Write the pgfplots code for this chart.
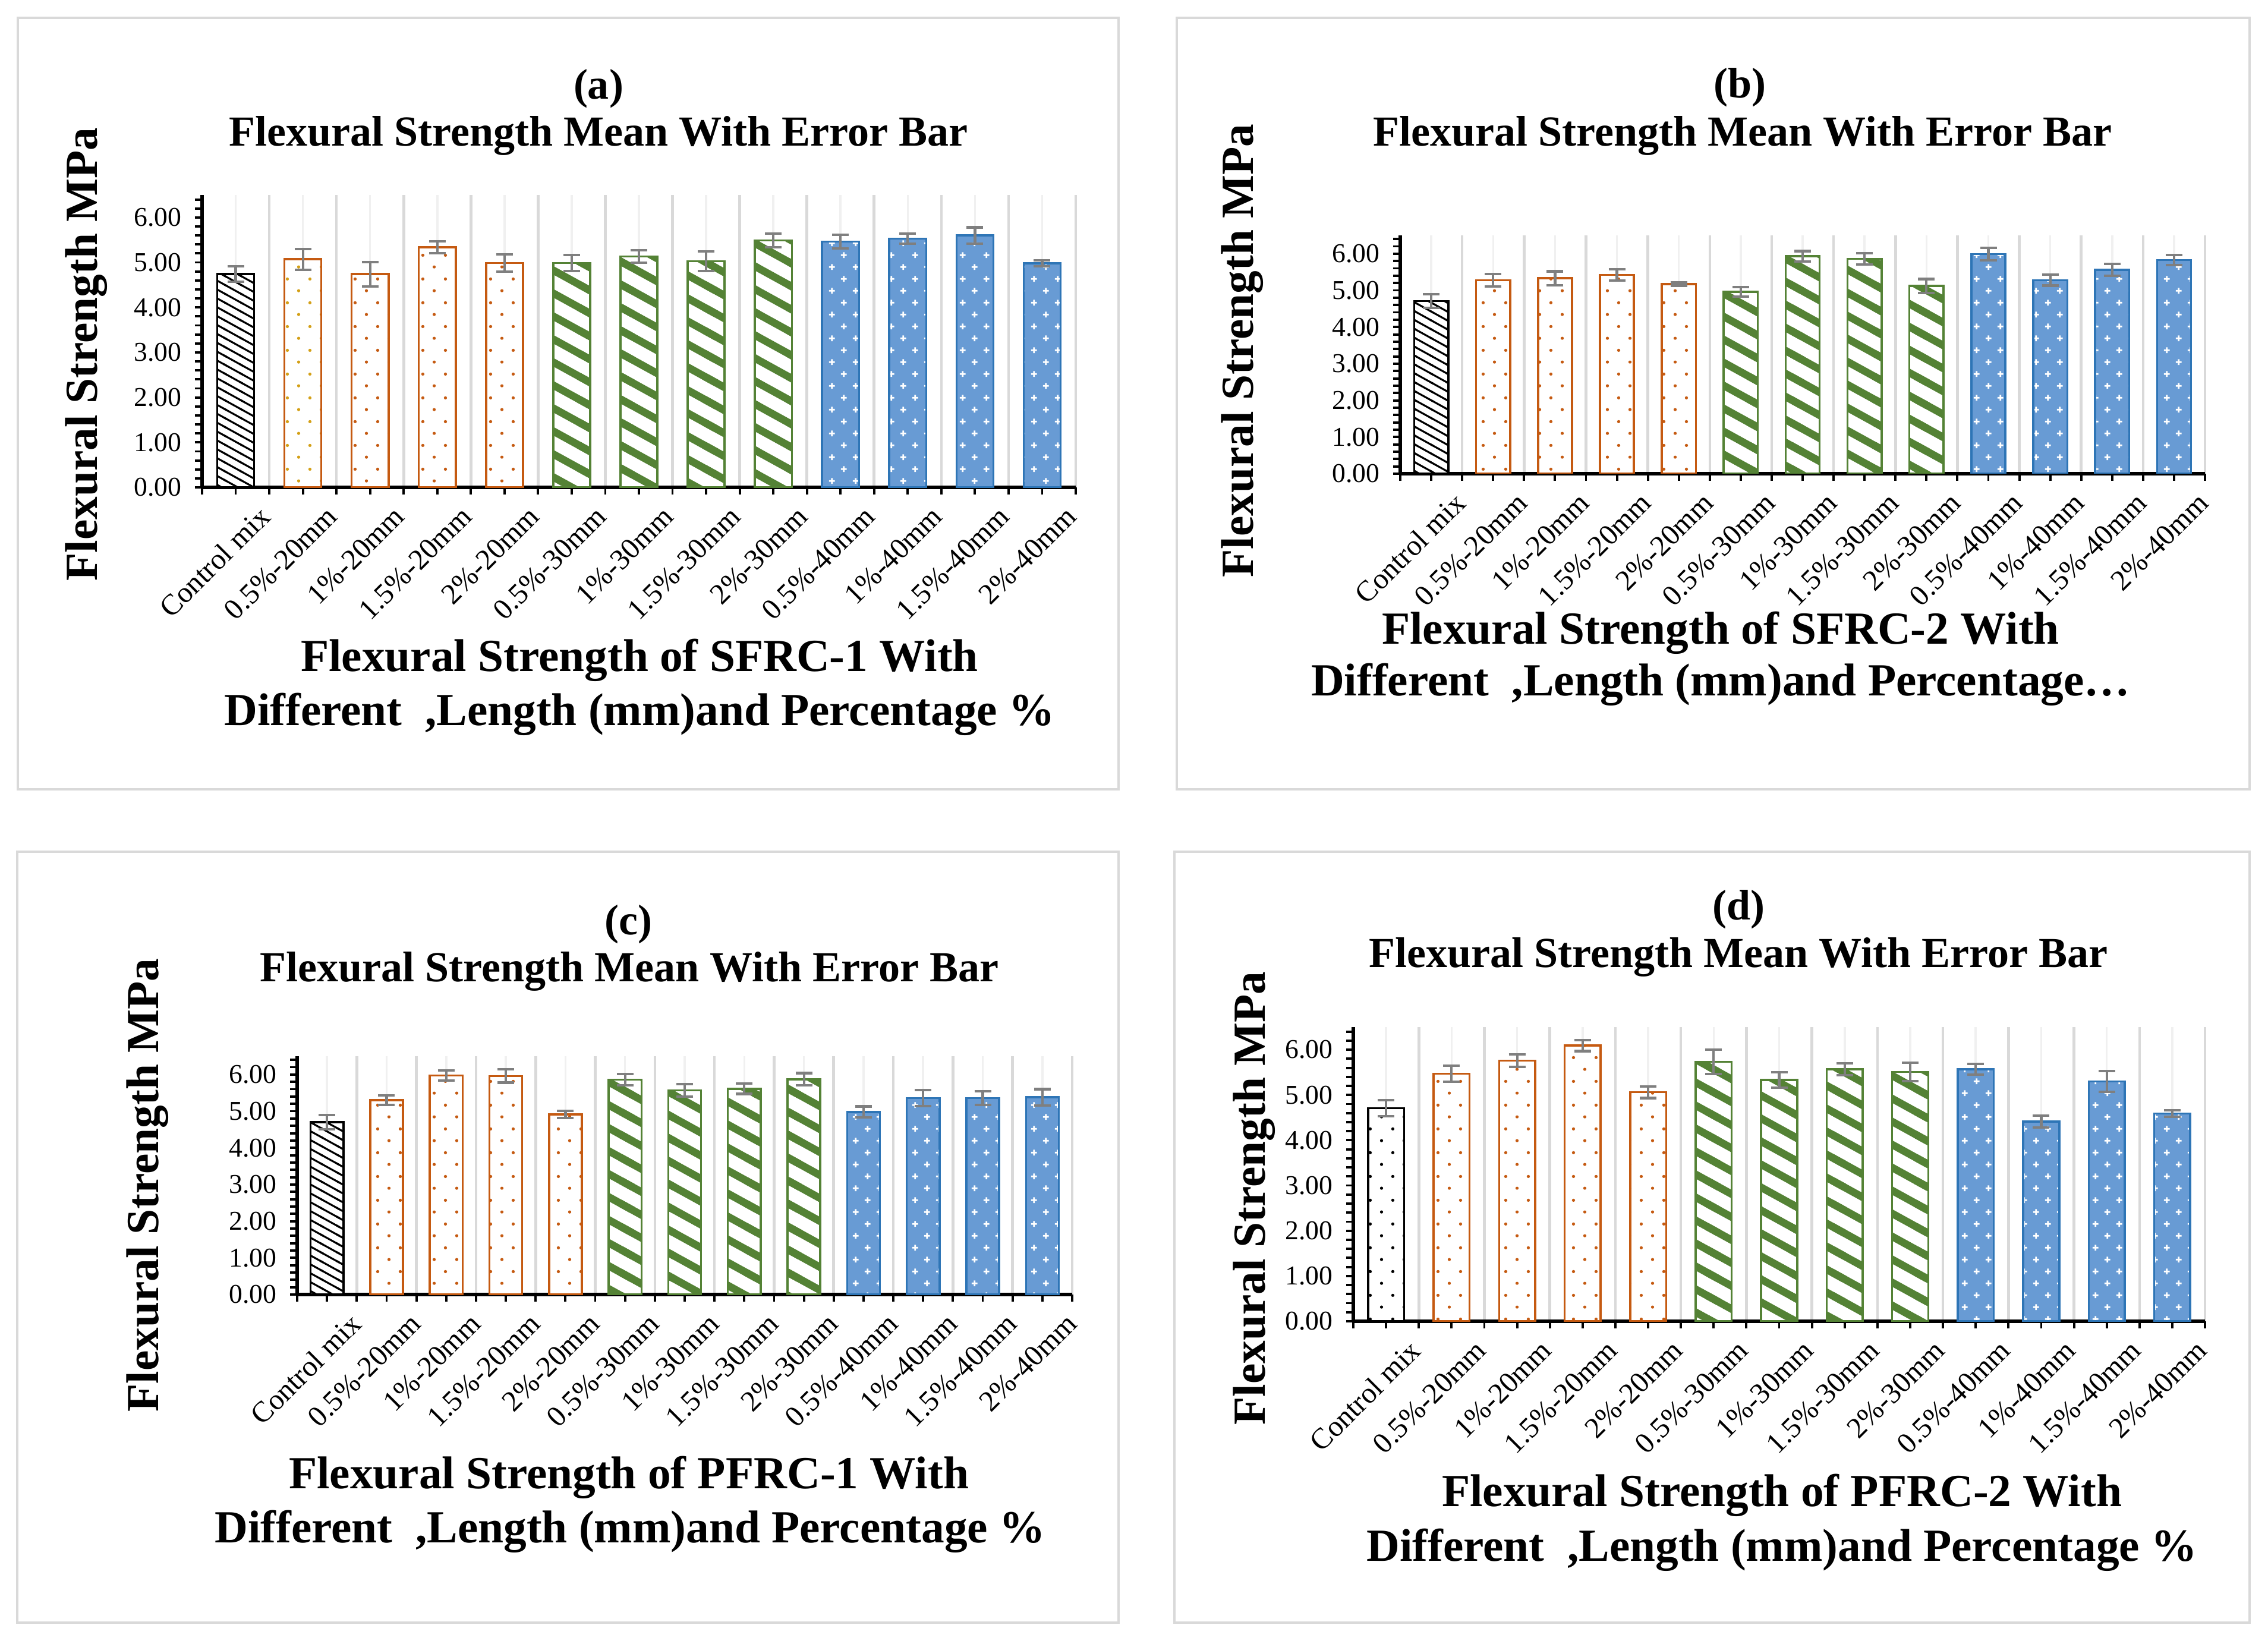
\documentclass[border=0pt]{standalone}
\usepackage{fontspec}
\setmainfont{Liberation Serif}
\usepackage{pgfplots}
\pgfplotsset{compat=1.18}
\usetikzlibrary{patterns}

\definecolor{cOr}{RGB}{197,90,17}
\definecolor{cGold}{RGB}{212,160,23}
\definecolor{cGr}{RGB}{84,130,53}
\definecolor{cBl}{RGB}{46,117,182}
\definecolor{cBlF}{RGB}{104,155,212}
\definecolor{errG}{RGB}{127,127,127}
\definecolor{frameG}{RGB}{217,217,217}
\definecolor{gridD}{RGB}{217,217,217}
\definecolor{gridL}{RGB}{240,240,240}

% fine black hatch, falling to the right
\pgfdeclarepatternformonly{hatchK}{\pgfqpoint{-1.5pt}{-1.5pt}}{\pgfqpoint{9.2pt}{5.8pt}}{\pgfqpoint{7.7pt}{4.25pt}}{%
  \pgfsetlinewidth{0.9pt}%
  \pgfpathmoveto{\pgfqpoint{-0.77pt}{4.675pt}}%
  \pgfpathlineto{\pgfqpoint{8.47pt}{-0.425pt}}%
  \pgfusepath{stroke}}
% wide green stripes
\pgfdeclarepatternformonly{stripeG}{\pgfqpoint{-4pt}{-3pt}}{\pgfqpoint{24pt}{14pt}}{\pgfqpoint{20pt}{11pt}}{%
  \pgfsetlinewidth{3.6pt}%
  \pgfpathmoveto{\pgfqpoint{-3pt}{12.65pt}}%
  \pgfpathlineto{\pgfqpoint{23pt}{-1.65pt}}%
  \pgfusepath{stroke}}
% staggered dots
\pgfdeclarepatternformonly{dotsP}{\pgfqpoint{0pt}{0pt}}{\pgfqpoint{10.8pt}{11.3pt}}{\pgfqpoint{10.8pt}{11.3pt}}{%
  \pgfpathcircle{\pgfqpoint{2.7pt}{2.825pt}}{0.75pt}%
  \pgfpathcircle{\pgfqpoint{8.1pt}{8.475pt}}{0.75pt}%
  \pgfusepath{fill}}
% small white crosses on the blue bars
\pgfdeclarepatternformonly{crossW}{\pgfqpoint{0pt}{0pt}}{\pgfqpoint{11.3pt}{11.3pt}}{\pgfqpoint{11.3pt}{11.3pt}}{%
  \pgfsetlinewidth{0.8pt}%
  \pgfpathmoveto{\pgfqpoint{1.4pt}{2.8pt}}\pgfpathlineto{\pgfqpoint{4.2pt}{2.8pt}}%
  \pgfpathmoveto{\pgfqpoint{2.8pt}{1.4pt}}\pgfpathlineto{\pgfqpoint{2.8pt}{4.2pt}}%
  \pgfpathmoveto{\pgfqpoint{7.1pt}{8.5pt}}\pgfpathlineto{\pgfqpoint{9.9pt}{8.5pt}}%
  \pgfpathmoveto{\pgfqpoint{8.5pt}{7.1pt}}\pgfpathlineto{\pgfqpoint{8.5pt}{9.9pt}}%
  \pgfusepath{stroke}}

\newcommand\tf{\bfseries\fontsize{20.5}{24}\selectfont}
\newcommand\xf{\bfseries\fontsize{22}{26}\selectfont}
\newcommand\tickf{\fontsize{13}{15}\selectfont}
\newcommand\xtickf{\fontsize{14}{16}\selectfont}

\pgfplotsset{
  fsaxis/.style={
    scale only axis, anchor=north west,
    xmin=-0.5, xmax=12.5, ymin=0, ymax=6.5,
    axis x line*=bottom, axis y line*=left,
    axis line style={black, line width=1.5pt},
    xtick={0,...,12}, minor xtick={-0.5,0.5,...,12.5},
    xticklabels={Control mix,0.5\%-20mm,1\%-20mm,1.5\%-20mm,2\%-20mm,0.5\%-30mm,1\%-30mm,1.5\%-30mm,2\%-30mm,0.5\%-40mm,1\%-40mm,1.5\%-40mm,2\%-40mm},
    ytick={0,1,2,3,4,5,6}, minor ytick={0.2,0.4,...,6.4},
    tick align=outside, major tick length=0.12cm, minor tick length=0.12cm,
    tick style={black, line width=1.1pt},
    xmajorgrids, xminorgrids,
    major grid style={draw=gridL, line width=1pt},
    minor grid style={draw=gridD, line width=1.3pt},
    /pgf/number format/assume math mode=true,
    yticklabel style={font=\tickf, inner sep=0pt, xshift=-0.22cm,
      /pgf/number format/.cd, fixed, fixed zerofill, precision=2},
    xticklabel style={font=\xtickf, rotate=45, anchor=east, inner sep=0pt, xshift=0.15cm, yshift=-0.55cm},
  },
  barbase/.style={ybar, bar width=0.55, bar shift=0pt, line width=1pt,
    /pgfplots/error bars/y dir=both, /pgfplots/error bars/y explicit,
    /pgfplots/error bars/error bar style={draw=errG, line width=1.2pt},
    /pgfplots/error bars/error mark options={draw=errG, rotate=90, mark size=0.14cm, line width=1.2pt}},
  bK/.style={barbase, preaction={fill=white}, pattern=hatchK, pattern color=black, draw=black},
  bKd/.style={barbase, preaction={fill=white}, pattern=dotsP, pattern color=black, draw=black},
  bO/.style={barbase, preaction={fill=white}, pattern=dotsP, pattern color=cOr, draw=cOr},
  bOg/.style={barbase, preaction={fill=white}, pattern=dotsP, pattern color=cGold, draw=cOr},
  bG/.style={barbase, preaction={fill=white}, pattern=stripeG, pattern color=cGr, draw=cGr},
  bB/.style={barbase, preaction={fill=cBlF}, pattern=crossW, pattern color=white, draw=cBl},
}

\begin{document}
\begin{tikzpicture}
\path[use as bounding box, fill=white] (0,0) rectangle (38.16,-27.65);

% panel frames
\draw[frameG, line width=1.2pt] (0.30,-0.30) rectangle (18.82,-13.28);
\draw[frameG, line width=1.2pt] (19.80,-0.30) rectangle (37.85,-13.28);
\draw[frameG, line width=1.2pt] (0.29,-14.33) rectangle (18.82,-27.30);
\draw[frameG, line width=1.2pt] (19.76,-14.33) rectangle (37.85,-27.30);

% (a) SFRC-1
\begin{axis}[fsaxis, at={(3.40cm,-3.28cm)}, width=14.70cm, height=4.92cm]
\addplot[bK] coordinates {(0,4.74) +- (0,0.17)};
\addplot[bOg] coordinates {(1,5.07) +- (0,0.23)};
\addplot[bO] coordinates {(2,4.74) +- (0,0.27) (3,5.34) +- (0,0.13) (4,4.99) +- (0,0.19)};
\addplot[bG] coordinates {(5,4.99) +- (0,0.18) (6,5.13) +- (0,0.14) (7,5.03) +- (0,0.22) (8,5.49) +- (0,0.15)};
\addplot[bB] coordinates {(9,5.46) +- (0,0.15) (10,5.53) +- (0,0.11) (11,5.60) +- (0,0.18) (12,4.98) +- (0,0.07)};
\end{axis}

% (b) SFRC-2
\begin{axis}[fsaxis, at={(23.56cm,-3.96cm)}, width=13.54cm, height=4.01cm]
\addplot[bK] coordinates {(0,4.71) +- (0,0.19)};
\addplot[bO] coordinates {(1,5.28) +- (0,0.17) (2,5.33) +- (0,0.19) (3,5.42) +- (0,0.15) (4,5.17) +- (0,0.04)};
\addplot[bG] coordinates {(5,4.96) +- (0,0.13) (6,5.93) +- (0,0.14) (7,5.86) +- (0,0.15) (8,5.12) +- (0,0.19)};
\addplot[bB] coordinates {(9,5.99) +- (0,0.17) (10,5.28) +- (0,0.15) (11,5.56) +- (0,0.16) (12,5.83) +- (0,0.14)};
\end{axis}

% (c) PFRC-1
\begin{axis}[fsaxis, at={(5.00cm,-17.77cm)}, width=13.04cm, height=4.01cm]
\addplot[bK] coordinates {(0,4.70) +- (0,0.19)};
\addplot[bO] coordinates {(1,5.30) +- (0,0.13) (2,5.97) +- (0,0.14) (3,5.96) +- (0,0.18) (4,4.91) +- (0,0.10)};
\addplot[bG] coordinates {(5,5.86) +- (0,0.16) (6,5.57) +- (0,0.17) (7,5.61) +- (0,0.14) (8,5.87) +- (0,0.17)};
\addplot[bB] coordinates {(9,4.98) +- (0,0.15) (10,5.36) +- (0,0.22) (11,5.36) +- (0,0.19) (12,5.38) +- (0,0.22)};
\end{axis}

% (d) PFRC-2
\begin{axis}[fsaxis, at={(22.77cm,-17.28cm)}, width=14.33cm, height=4.95cm]
\addplot[bKd] coordinates {(0,4.71) +- (0,0.18)};
\addplot[bO] coordinates {(1,5.47) +- (0,0.18) (2,5.76) +- (0,0.14) (3,6.09) +- (0,0.12) (4,5.06) +- (0,0.13)};
\addplot[bG] coordinates {(5,5.73) +- (0,0.27) (6,5.33) +- (0,0.17) (7,5.57) +- (0,0.13) (8,5.51) +- (0,0.20)};
\addplot[bB] coordinates {(9,5.57) +- (0,0.12) (10,4.41) +- (0,0.13) (11,5.30) +- (0,0.23) (12,4.59) +- (0,0.07)};
\end{axis}

% titles and axis titles
\node[font=\tf] at (10.07,-1.49) {(a)};
\node[font=\tf] at (10.07,-2.28) {Flexural Strength Mean With Error Bar};
\node[font=\xf, rotate=90] at (1.45,-5.96) {Flexural Strength MPa};
\node[font=\xf] at (10.76,-11.11) {Flexural Strength of SFRC-1 With};
\node[font=\xf] at (10.76,-12.02) {Different\ \ ,Length (mm)and Percentage \%};

\node[font=\tf] at (29.27,-1.47) {(b)};
\node[font=\tf] at (29.32,-2.28) {Flexural Strength Mean With Error Bar};
\node[font=\xf, rotate=90] at (20.90,-5.90) {Flexural Strength MPa};
\node[font=\xf] at (28.95,-10.65) {Flexural Strength of SFRC-2 With};
\node[font=\xf] at (28.95,-11.52) {Different\ \ ,Length (mm)and Percentage…};

\node[font=\tf] at (10.57,-15.55) {(c)};
\node[font=\tf] at (10.59,-16.34) {Flexural Strength Mean With Error Bar};
\node[font=\xf, rotate=90] at (2.48,-19.94) {Flexural Strength MPa};
\node[font=\xf] at (10.58,-24.86) {Flexural Strength of PFRC-1 With};
\node[font=\xf] at (10.60,-25.77) {Different\ \ ,Length (mm)and Percentage \%};

\node[font=\tf] at (29.25,-15.30) {(d)};
\node[font=\tf] at (29.25,-16.10) {Flexural Strength Mean With Error Bar};
\node[font=\xf, rotate=90] at (21.10,-20.16) {Flexural Strength MPa};
\node[font=\xf] at (29.98,-25.16) {Flexural Strength of PFRC-2 With};
\node[font=\xf] at (29.98,-26.08) {Different\ \ ,Length (mm)and Percentage \%};
\end{tikzpicture}
\end{document}
